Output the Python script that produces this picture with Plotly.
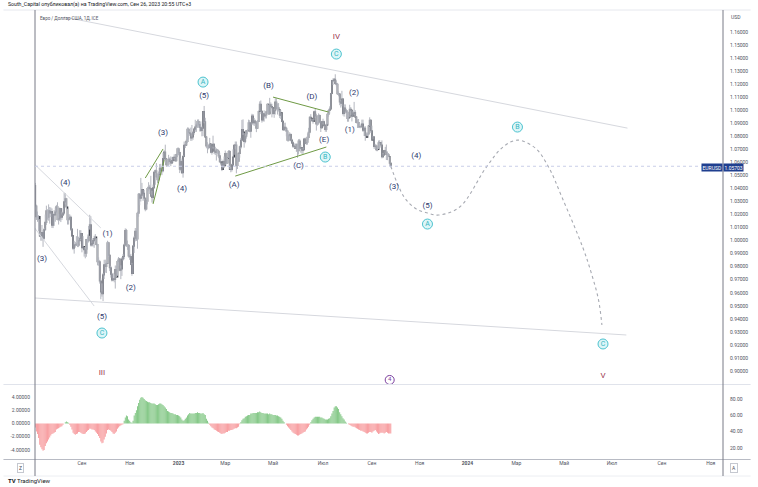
import pandas as pd
import plotly.graph_objects as go

# EUR/USD daily closes, Jul 1 2022 - Sep 26 2023 (one row per month)
close_prices = [
    1.0425, 1.0423, 1.0265, 1.0183, 1.0162, 1.0184, 1.0036, 1.0037, 1.0062, 1.0018, 1.0083, 1.0140, 1.0228, 1.0179, 1.0229, 1.0212, 1.0222, 1.0118, 1.0200, 1.0197, 1.0220,
    1.0260, 1.0163, 1.0167, 1.0245, 1.0180, 1.0196, 1.0212, 1.0297, 1.0320, 1.0258, 1.0160, 1.0168, 1.0178, 1.0088, 1.0036, 0.9942, 0.9966, 0.9968, 0.9973, 0.9965, 1.0000, 1.0016, 1.0055,
    0.9945, 0.9955, 0.9930, 0.9903, 1.0008, 0.9999, 1.0042, 1.0122, 0.9967, 0.9978, 1.0000, 1.0015, 1.0028, 0.9970, 0.9838, 0.9837, 0.9690, 0.9606, 0.9593, 0.9737, 0.9814, 0.9801,
    0.9824, 0.9984, 0.9888, 0.9792, 0.9742, 0.9698, 0.9707, 0.9702, 0.9778, 0.9722, 0.9840, 0.9858, 0.9773, 0.9782, 0.9859, 0.9878, 0.9966, 1.0078, 0.9966, 0.9964, 0.9882,
    0.9877, 0.9818, 0.9748, 0.9958, 1.0019, 1.0072, 1.0012, 1.0210, 1.0355, 1.0326, 1.0348, 1.0392, 1.0362, 1.0325, 1.0243, 1.0303, 1.0399, 1.0408, 1.0399, 1.0343, 1.0331, 1.0406,
    1.0524, 1.0536, 1.0490, 1.0468, 1.0508, 1.0555, 1.0536, 1.0537, 1.0630, 1.0680, 1.0625, 1.0583, 1.0605, 1.0623, 1.0608, 1.0595, 1.0614, 1.0637, 1.0640, 1.0613, 1.0660, 1.0705,
    1.0675, 1.0548, 1.0606, 1.0521, 1.0645, 1.0732, 1.0734, 1.0761, 1.0853, 1.0829, 1.0820, 1.0788, 1.0795, 1.0830, 1.0855, 1.0871, 1.0886, 1.0913, 1.0890, 1.0868, 1.0845, 1.0862,
    1.0990, 1.0912, 1.0795, 1.0726, 1.0727, 1.0714, 1.0740, 1.0678, 1.0723, 1.0739, 1.0686, 1.0676, 1.0695, 1.0686, 1.0650, 1.0606, 1.0595, 1.0546, 1.0606, 1.0575,
    1.0668, 1.0596, 1.0633, 1.0683, 1.0547, 1.0545, 1.0581, 1.0641, 1.0732, 1.0733, 1.0577, 1.0609, 1.0669, 1.0719, 1.0770, 1.0852, 1.0832, 1.0760, 1.0800, 1.0843, 1.0844, 1.0904, 1.0839,
    1.0902, 1.0955, 1.0905, 1.0918, 1.0903, 1.0862, 1.0914, 1.0990, 1.1046, 1.0991, 1.0926, 1.0972, 1.0957, 1.0963, 1.0989, 1.1046, 1.0973, 1.1041, 1.1029, 1.1020,
    1.0975, 1.0996, 1.1063, 1.1014, 1.1018, 1.1006, 1.0962, 1.0981, 1.0915, 1.0850, 1.0870, 1.0862, 1.0841, 1.0771, 1.0805, 1.0814, 1.0771, 1.0750, 1.0725, 1.0722, 1.0706, 1.0736, 1.0689,
    1.0763, 1.0708, 1.0713, 1.0694, 1.0698, 1.0780, 1.0750, 1.0755, 1.0792, 1.0831, 1.0945, 1.0939, 1.0922, 1.0916, 1.0988, 1.0956, 1.0895, 1.0905, 1.0960, 1.0912, 1.0867, 1.0910,
    1.0911, 1.0881, 1.0852, 1.0888, 1.0969, 1.0998, 1.1010, 1.1129, 1.1228, 1.1227, 1.1238, 1.1205, 1.1199, 1.1127, 1.1124, 1.1064, 1.1054, 1.1085, 1.0975, 1.1016, 1.0995,
    1.0985, 1.0937, 1.0947, 1.1008, 1.1000, 1.0955, 1.0973, 1.0982, 1.0948, 1.0907, 1.0905, 1.0874, 1.0873, 1.0873, 1.0895, 1.0846, 1.0862, 1.0807, 1.0794, 1.0818, 1.0878, 1.0922, 1.0843,
    1.0772, 1.0795, 1.0722, 1.0726, 1.0697, 1.0699, 1.0751, 1.0752, 1.0733, 1.0643, 1.0658, 1.0690, 1.0679, 1.0660, 1.0658, 1.0645, 1.0593, 1.0570,
]
high_prices = [
    1.0486, 1.0463, 1.0443, 1.0276, 1.0223, 1.0196, 1.0165, 1.0062, 1.0120, 1.0080, 1.0097, 1.0200, 1.0268, 1.0240, 1.0278, 1.0258, 1.0254, 1.0247, 1.0210, 1.0234, 1.0254,
    1.0274, 1.0294, 1.0204, 1.0254, 1.0250, 1.0222, 1.0248, 1.0368, 1.0365, 1.0328, 1.0245, 1.0203, 1.0202, 1.0192, 1.0096, 1.0034, 0.9998, 0.9990, 1.0034, 1.0090, 1.0030, 1.0080, 1.0080,
    1.0057, 1.0034, 0.9950, 0.9952, 1.0013, 1.0030, 1.0112, 1.0198, 1.0187, 1.0018, 1.0017, 1.0037, 1.0050, 1.0019, 0.9976, 0.9872, 0.9852, 0.9710, 0.9672, 0.9752, 0.9853, 0.9854,
    0.9839, 0.9999, 0.9991, 0.9894, 0.9806, 0.9749, 0.9753, 0.9743, 0.9809, 0.9807, 0.9852, 0.9874, 0.9865, 0.9810, 0.9873, 0.9896, 0.9977, 1.0094, 1.0090, 1.0000, 0.9968,
    0.9954, 0.9898, 0.9829, 0.9966, 1.0034, 1.0097, 1.0094, 1.0222, 1.0364, 1.0364, 1.0481, 1.0443, 1.0393, 1.0389, 1.0327, 1.0310, 1.0412, 1.0448, 1.0428, 1.0497, 1.0383, 1.0430,
    1.0534, 1.0545, 1.0595, 1.0515, 1.0530, 1.0587, 1.0589, 1.0571, 1.0673, 1.0694, 1.0736, 1.0627, 1.0613, 1.0658, 1.0638, 1.0646, 1.0640, 1.0645, 1.0662, 1.0662, 1.0667, 1.0713,
    1.0714, 1.0683, 1.0635, 1.0622, 1.0656, 1.0760, 1.0750, 1.0777, 1.0868, 1.0867, 1.0841, 1.0867, 1.0887, 1.0837, 1.0860, 1.0927, 1.0904, 1.0929, 1.0930, 1.0904, 1.0915, 1.0876,
    1.0993, 1.1033, 1.0942, 1.0800, 1.0755, 1.0739, 1.0788, 1.0742, 1.0728, 1.0805, 1.0741, 1.0720, 1.0708, 1.0703, 1.0691, 1.0674, 1.0630, 1.0595, 1.0621, 1.0645,
    1.0691, 1.0674, 1.0638, 1.0694, 1.0695, 1.0566, 1.0590, 1.0700, 1.0736, 1.0760, 1.0760, 1.0640, 1.0671, 1.0728, 1.0788, 1.0926, 1.0930, 1.0827, 1.0815, 1.0849, 1.0855, 1.0928, 1.0924,
    1.0910, 1.0973, 1.0971, 1.0941, 1.0928, 1.0914, 1.0925, 1.0998, 1.1068, 1.1075, 1.0996, 1.0980, 1.0999, 1.0985, 1.1000, 1.1049, 1.1045, 1.1095, 1.1060, 1.1050,
    1.1025, 1.1011, 1.1092, 1.1091, 1.1053, 1.1055, 1.1007, 1.1000, 1.0978, 1.0920, 1.0903, 1.0905, 1.0873, 1.0850, 1.0815, 1.0831, 1.0823, 1.0782, 1.0762, 1.0746, 1.0745, 1.0746, 1.0744,
    1.0778, 1.0780, 1.0734, 1.0716, 1.0715, 1.0788, 1.0790, 1.0764, 1.0823, 1.0865, 1.0950, 1.0970, 1.0936, 1.0933, 1.0997, 1.1012, 1.0973, 1.0916, 1.0976, 1.0968, 1.0920, 1.0915,
    1.0935, 1.0920, 1.0885, 1.0902, 1.0975, 1.1008, 1.1030, 1.1133, 1.1233, 1.1245, 1.1245, 1.1276, 1.1230, 1.1210, 1.1145, 1.1131, 1.1077, 1.1149, 1.1092, 1.1045, 1.1045,
    1.1010, 1.1000, 1.0963, 1.1042, 1.1025, 1.1004, 1.0995, 1.1064, 1.1000, 1.0952, 1.0930, 1.0933, 1.0903, 1.0890, 1.0928, 1.0928, 1.0875, 1.0877, 1.0830, 1.0830, 1.0882, 1.0946, 1.0929,
    1.0882, 1.0804, 1.0798, 1.0742, 1.0736, 1.0721, 1.0768, 1.0770, 1.0755, 1.0769, 1.0673, 1.0696, 1.0719, 1.0737, 1.0683, 1.0672, 1.0647, 1.0601,
]
low_prices = [
    1.0366, 1.0407, 1.0236, 1.0162, 1.0144, 1.0072, 1.0033, 0.9999, 0.9999, 0.9952, 1.0007, 1.0080, 1.0120, 1.0160, 1.0153, 1.0130, 1.0180, 1.0097, 1.0096, 1.0113, 1.0145,
    1.0204, 1.0155, 1.0123, 1.0150, 1.0142, 1.0159, 1.0188, 1.0200, 1.0277, 1.0238, 1.0123, 1.0123, 1.0160, 1.0074, 1.0030, 0.9927, 0.9900, 0.9946, 0.9960, 0.9950, 0.9950, 0.9975, 1.0003,
    0.9910, 0.9946, 0.9877, 0.9864, 0.9876, 0.9930, 0.9985, 1.0084, 0.9955, 0.9955, 0.9955, 0.9945, 0.9990, 0.9960, 0.9810, 0.9807, 0.9670, 0.9550, 0.9570, 0.9536, 0.9705, 0.9754,
    0.9751, 0.9822, 0.9874, 0.9766, 0.9716, 0.9686, 0.9690, 0.9680, 0.9632, 0.9718, 0.9730, 0.9806, 0.9765, 0.9704, 0.9729, 0.9846, 0.9857, 0.9956, 0.9951, 0.9929, 0.9870,
    0.9852, 0.9812, 0.9730, 0.9745, 0.9905, 0.9994, 0.9997, 0.9938, 1.0183, 1.0271, 1.0300, 1.0332, 1.0305, 1.0309, 1.0225, 1.0233, 1.0278, 1.0378, 1.0357, 1.0337, 1.0292, 1.0290,
    1.0401, 1.0428, 1.0481, 1.0442, 1.0459, 1.0505, 1.0503, 1.0502, 1.0524, 1.0627, 1.0595, 1.0566, 1.0573, 1.0573, 1.0583, 1.0571, 1.0588, 1.0599, 1.0623, 1.0608, 1.0610, 1.0640,
    1.0654, 1.0518, 1.0532, 1.0512, 1.0483, 1.0640, 1.0710, 1.0731, 1.0750, 1.0776, 1.0803, 1.0765, 1.0766, 1.0774, 1.0812, 1.0834, 1.0834, 1.0865, 1.0866, 1.0837, 1.0835, 1.0800,
    1.0802, 1.0900, 1.0791, 1.0708, 1.0670, 1.0700, 1.0707, 1.0670, 1.0659, 1.0705, 1.0664, 1.0657, 1.0614, 1.0666, 1.0632, 1.0600, 1.0577, 1.0533, 1.0554, 1.0557,
    1.0576, 1.0586, 1.0588, 1.0632, 1.0547, 1.0524, 1.0530, 1.0578, 1.0658, 1.0700, 1.0516, 1.0549, 1.0603, 1.0636, 1.0702, 1.0760, 1.0811, 1.0713, 1.0747, 1.0782, 1.0815, 1.0842, 1.0831,
    1.0789, 1.0890, 1.0886, 1.0880, 1.0878, 1.0832, 1.0857, 1.0910, 1.0990, 1.0970, 1.0905, 1.0913, 1.0913, 1.0937, 1.0937, 1.0975, 1.0965, 1.0966, 1.0990, 1.0945,
    1.0966, 1.0942, 1.0967, 1.1000, 1.0967, 1.0990, 1.0940, 1.0933, 1.0908, 1.0848, 1.0846, 1.0840, 1.0800, 1.0761, 1.0760, 1.0780, 1.0761, 1.0745, 1.0711, 1.0712, 1.0703, 1.0681, 1.0635,
    1.0660, 1.0700, 1.0674, 1.0667, 1.0665, 1.0695, 1.0745, 1.0734, 1.0736, 1.0773, 1.0815, 1.0920, 1.0910, 1.0897, 1.0920, 1.0940, 1.0844, 1.0882, 1.0890, 1.0902, 1.0833, 1.0862,
    1.0890, 1.0868, 1.0835, 1.0834, 1.0889, 1.0950, 1.0975, 1.1005, 1.1123, 1.1193, 1.1217, 1.1196, 1.1182, 1.1117, 1.1107, 1.1039, 1.1020, 1.1030, 1.0960, 1.0951, 1.0975,
    1.0946, 1.0912, 1.0912, 1.0945, 1.0964, 1.0914, 1.0950, 1.0964, 1.0945, 1.0900, 1.0864, 1.0864, 1.0863, 1.0862, 1.0865, 1.0833, 1.0802, 1.0766, 1.0800, 1.0800, 1.0810, 1.0875, 1.0825,
    1.0770, 1.0775, 1.0704, 1.0704, 1.0686, 1.0686, 1.0702, 1.0713, 1.0714, 1.0631, 1.0633, 1.0649, 1.0672, 1.0618, 1.0617, 1.0640, 1.0572, 1.0562,
]
first_open = 1.0484

# oscillator histogram (lower pane), same days
osc_values = [
    0.2, 0.0, -0.6, -1.2, -1.6, -2.2, -3.2, -3.6, -3.9, -4.1, -4.0, -3.4, -3.0, -2.7, -2.4, -2.1, -1.8, -1.6, -1.5, -1.4, -1.3,
    -0.9, -0.8, -0.7, -0.6, -0.5, -0.4, -0.2, 0.0, 0.2, 0.3, 0.2, 0.1, -0.2, -0.5, -0.9, -1.4, -1.6, -1.7, -1.6, -1.5, -1.3, -1.3, -1.4,
    -1.5, -1.6, -1.6, -1.5, -1.3, -1.1, -1.0, -0.8, -0.8, -0.9, -0.9, -1.0, -1.2, -1.4, -1.6, -1.9, -2.2, -2.7, -3.0, -2.9, -2.4, -2.0,
    -1.5, -1.0, -0.9, -1.0, -1.1, -1.3, -1.5, -1.6, -1.4, -1.2, -0.8, -0.6, -0.4, -0.3, -0.2, -0.1, 0.4, 0.9, 1.2, 1.1, 0.6,
    0.4, 0.2, 0.1, 0.4, 1.2, 1.6, 2.0, 2.6, 3.1, 3.6, 3.9, 4.0, 3.9, 3.7, 3.5, 3.4, 3.3, 3.2, 3.2, 3.1, 3.0, 3.0,
    3.0, 2.9, 2.8, 2.8, 2.9, 3.0, 3.0, 2.9, 2.8, 2.6, 2.4, 2.2, 1.9, 1.8, 1.7, 1.6, 1.6, 1.5, 1.4, 1.4, 1.3, 1.3,
    1.2, 1.1, 0.9, 0.6, 0.4, 0.5, 0.7, 0.9, 1.2, 1.4, 1.6, 1.5, 1.5, 1.5, 1.5, 1.6, 1.6, 1.7, 1.6, 1.6, 1.5, 1.5,
    1.6, 1.4, 1.3, 0.7, 0.4, 0.1, -0.2, -0.4, -0.6, -0.7, -0.9, -1.0, -1.1, -1.2, -1.3, -1.4, -1.5, -1.6, -1.5, -1.5,
    -1.4, -1.3, -1.3, -1.1, -1.1, -1.0, -1.0, -0.9, -0.8, -0.7, -0.7, -0.6, -0.5, -0.1, 0.2, 0.5, 0.7, 0.8, 1.0, 1.1, 1.2, 1.3, 1.3,
    1.5, 1.5, 1.6, 1.6, 1.6, 1.6, 1.7, 1.7, 1.8, 1.7, 1.6, 1.6, 1.5, 1.5, 1.5, 1.5, 1.4, 1.5, 1.4, 1.4,
    1.3, 1.3, 1.3, 1.2, 1.2, 1.1, 1.0, 0.9, 0.7, 0.4, 0.2, 0.0, -0.2, -0.4, -0.6, -0.8, -1.0, -1.2, -1.4, -1.5, -1.6, -1.7, -1.8,
    -1.8, -1.7, -1.6, -1.5, -1.4, -1.3, -1.2, -0.9, -0.7, -0.5, -0.2, 0.2, 0.5, 0.7, 0.9, 1.0, 1.0, 1.0, 1.0, 1.0, 0.9, 0.9,
    0.8, 0.7, 0.6, 0.6, 0.6, 0.7, 0.8, 1.1, 1.5, 1.9, 2.4, 2.6, 2.6, 2.4, 2.2, 1.7, 1.4, 1.1, 0.8, 0.6, 0.3,
    0.1, 0.0, -0.1, -0.2, -0.3, -0.4, -0.5, -0.5, -0.6, -0.7, -0.8, -0.9, -1.0, -1.1, -1.1, -1.2, -1.3, -1.4, -1.5, -1.5, -1.4, -1.3, -1.3,
    -1.4, -1.2, -1.1, -1.0, -1.2, -1.4, -1.6, -1.5, -1.4, -1.4, -1.4, -1.5, -1.4, -1.3, -1.4, -1.5, -1.5, -1.5,
]

# elliott wave labels
wave_labels = ["(4)", "(3)", "(1)", "(5)", "(2)", "(3)", "(4)", "(5)", "(A)", "(B)", "(C)", "(D)", "(E)",
               "(2)", "(1)", "(3)", "(4)", "(5)"]
wave_dates = ["2022-08-11", "2022-07-13", "2022-10-04", "2022-09-27", "2022-11-02", "2022-12-13", "2023-01-05",
              "2023-02-02", "2023-03-13", "2023-04-25", "2023-06-01", "2023-06-19", "2023-07-04", "2023-08-10",
              "2023-08-04", "2023-09-29", "2023-10-27", "2023-11-10"]
wave_prices = [1.0442, 0.9859, 1.0051, 0.9414, 0.9637, 1.0825, 1.0396, 1.1109, 1.0426, 1.1186, 1.0572, 1.1101,
               1.0771, 1.1132, 1.0848, 1.0411, 1.0649, 1.0265]

circle_labels = ["C", "A", "B", "C", "A", "B", "C"]
circle_dates = ["2022-09-27", "2023-02-01", "2023-07-05", "2023-07-19", "2023-11-10", "2024-03-04", "2024-06-19"]
circle_prices = [0.9291, 1.1216, 1.0641, 1.1431, 1.0127, 1.0871, 0.9207]

degree_labels = ["III", "IV", "V"]
degree_dates = ["2022-09-27", "2023-07-19", "2024-06-19"]
degree_prices = [0.8985, 1.1561, 0.8962]

# projected path (dotted)
proj_dates = ["2023-09-26", "2023-10-12", "2023-10-27", "2023-11-10", "2023-11-24", "2023-12-21", "2024-01-24",
              "2024-02-14", "2024-03-04", "2024-03-26", "2024-04-11", "2024-04-29", "2024-05-24", "2024-06-05",
              "2024-06-13", "2024-06-18"]
proj_prices = [1.0570, 1.0334, 1.0242, 1.0212, 1.0196, 1.0258, 1.0564, 1.0718, 1.0771, 1.0710, 1.0564, 1.0334,
               0.9943, 0.9736, 0.9544, 0.9353]

# trend lines: start date, start price, end date, end price
gray_lines = [
    ["2022-08-10", 1.1715, "2024-07-19", 1.0863],
    ["2022-07-04", 0.9560, "2024-07-18", 0.9276],
    ["2022-07-05", 1.0580, "2022-09-26", 1.0097],
    ["2022-07-04", 1.0102, "2022-09-16", 0.9498],
]
green_lines = [
    ["2022-11-21", 1.0480, "2022-12-13", 1.0703],
    ["2022-11-30", 1.0281, "2022-12-14", 1.0618],
    ["2023-05-01", 1.1101, "2023-07-10", 1.0986],
    ["2023-03-14", 1.0495, "2023-07-06", 1.0718],
]

last_price = 1.05703
price_ticks = [round(0.90 + i * 0.01, 2) for i in range(27)]
osc_ticks = [-4, -2, 0, 2, 4]
osc_ticktext = ["-4.00000", "-2.00000", "0.00000", "2.00000", "4.00000"]
rsi_ticks = [20, 40, 60, 80]
month_ticks = ["2022-09-01", "2022-11-01", "2023-01-02", "2023-03-01", "2023-05-01", "2023-07-03", "2023-09-01",
               "2023-11-01", "2024-01-01", "2024-03-01", "2024-05-01", "2024-07-01", "2024-09-02", "2024-11-01"]
month_text = ["Сен", "Ноя", "<b>2023</b>", "Мар", "Май", "Июл", "Сен", "Ноя", "<b>2024</b>", "Мар", "Май", "Июл",
              "Сен", "Ноя"]

dates = pd.bdate_range("2022-07-01", "2023-09-26")
open_prices = [first_open] + close_prices[:-1]
body_top = [max(o, c) for o, c in zip(open_prices, close_prices)]
body_bot = [min(o, c) for o, c in zip(open_prices, close_prices)]

W, H = 758, 487
ML, MR, MT, MB = 32, 28, 10, 28
PW, PH = W - ML - MR, H - MT - MB


def px(x):
    return (x - ML) / PW


def py(y):
    return (H - MB - y) / PH


fig = go.Figure()

# wicks
wx, wy = [], []
for d, hi, lo in zip(dates, high_prices, low_prices):
    wx += [d, d, None]
    wy += [lo, hi, None]
fig.add_trace(go.Scatter(x=wx, y=wy, mode="lines", line=dict(color="#b4b7bf", width=1), hoverinfo="skip"))

fig.add_trace(go.Candlestick(
    x=dates, open=open_prices, high=body_top, low=body_bot, close=close_prices,
    increasing=dict(line=dict(color="#3d404a", width=1.1), fillcolor="#3d404a"),
    decreasing=dict(line=dict(color="#3d404a", width=1.1), fillcolor="#3d404a"),
    whiskerwidth=0,
))

for d0, p0, d1, p1 in gray_lines:
    fig.add_trace(go.Scatter(x=[d0, d1], y=[p0, p1], mode="lines", line=dict(color="#d6d8de", width=1)))
for d0, p0, d1, p1 in green_lines:
    fig.add_trace(go.Scatter(x=[d0, d1], y=[p0, p1], mode="lines", line=dict(color="#6f9a45", width=1)))

fig.add_trace(go.Scatter(x=proj_dates, y=proj_prices, mode="lines",
                         line=dict(color="#a7aab2", width=1.1, dash="dot", shape="spline", smoothing=1.0)))

fig.add_trace(go.Scatter(x=wave_dates, y=wave_prices, mode="text", text=wave_labels,
                         textfont=dict(color="#2e3a6e", size=8, family="Roboto")))
fig.add_trace(go.Scatter(x=circle_dates, y=circle_prices, mode="markers+text", text=circle_labels,
                         textposition="middle center",
                         marker=dict(symbol="circle", size=10, color="rgba(120,215,225,0.25)",
                                     line=dict(color="#4cc3cf", width=1)),
                         textfont=dict(color="#35b5c2", size=7, family="Roboto")))
fig.add_trace(go.Scatter(x=degree_dates, y=degree_prices, mode="text", text=degree_labels,
                         textfont=dict(color="#9b3650", size=8, family="Roboto")))
fig.add_trace(go.Scatter(x=["2023-09-25"], y=[0.8931], mode="markers+text", text=["4"],
                         textposition="middle center",
                         marker=dict(symbol="circle", size=9, color="white", line=dict(color="#7b3f9e", width=1)),
                         textfont=dict(color="#7b3f9e", size=6, family="Roboto")))

# oscillator
osc_colors = ["rgba(76,175,80,0.75)" if v >= 0 else "rgba(242,90,96,0.65)" for v in osc_values]
fig.add_trace(go.Bar(x=dates, y=osc_values, marker=dict(color=osc_colors, line=dict(width=0)),
                     xaxis="x2", yaxis="y2"))
fig.add_trace(go.Scatter(x=[dates[0]], y=[None], mode="lines", xaxis="x2", yaxis="y3"))

breaks = [dict(bounds=["sat", "mon"])]
x_range = ["2022-07-04 18:00", "2024-11-18"]
tick_font = dict(size=5, color="#50535e")

fig.update_layout(
    width=W, height=H,
    margin=dict(l=ML, r=MR, t=MT, b=MB),
    paper_bgcolor="white", plot_bgcolor="white",
    showlegend=False, bargap=0.2,
    font=dict(family="Roboto, Inter, sans-serif", size=5, color="#50535e"),
    xaxis=dict(domain=[0, 1], anchor="y", range=x_range, rangebreaks=breaks, showticklabels=False,
               showgrid=False, zeroline=False, rangeslider=dict(visible=False)),
    xaxis2=dict(domain=[0, 1], anchor="y2", matches="x", range=x_range, rangebreaks=breaks,
                tickvals=month_ticks, ticktext=month_text, tickfont=tick_font, ticks="",
                showgrid=False, zeroline=False),
    yaxis=dict(domain=[py(384), 1], range=[0.8900, 1.1769], side="right", tickvals=price_ticks,
               tickformat=".5f", tickfont=tick_font, ticks="", ticklabelstandoff=6,
               showgrid=False, zeroline=False),
    yaxis2=dict(domain=[0, py(385)], range=[-5.36, 5.81], side="left", tickvals=osc_ticks,
                ticktext=osc_ticktext, tickfont=tick_font, ticks="", ticklabelstandoff=4,
                showgrid=False, zeroline=False),
    yaxis3=dict(overlaying="y2", anchor="x2", side="right", range=[6.5, 97.1], tickvals=rsi_ticks,
                tickformat=".2f", tickfont=tick_font, ticks="", ticklabelstandoff=6,
                showgrid=False, zeroline=False),
)

# frame lines
line_gray = "#787b86"
fig.add_shape(type="line", xref="paper", yref="paper", x0=px(0), x1=px(W), y0=py(10), y1=py(10),
              line=dict(color="#e6e8ee", width=1))
fig.add_shape(type="line", xref="paper", yref="paper", x0=px(0), x1=px(W), y0=py(384.5), y1=py(384.5),
              line=dict(color="#e0e3eb", width=1))
fig.add_shape(type="line", xref="paper", yref="paper", x0=px(0), x1=px(W), y0=py(459.5), y1=py(459.5),
              line=dict(color="#b8bbc4", width=1))
fig.add_shape(type="line", xref="paper", yref="paper", x0=px(0), x1=px(W), y0=py(476), y1=py(476),
              line=dict(color="#eceef2", width=1))
fig.add_shape(type="line", xref="paper", yref="paper", x0=0, x1=0, y0=py(476), y1=py(10),
              line=dict(color=line_gray, width=1))
fig.add_shape(type="line", xref="paper", yref="paper", x0=1, x1=1, y0=py(476), y1=py(10),
              line=dict(color=line_gray, width=1))
# last price line
fig.add_shape(type="line", xref="paper", yref="y", x0=0, x1=1, y0=last_price, y1=last_price,
              line=dict(color="#c9cee8", width=1, dash="dot"))

fig.add_annotation(x=1, xref="paper", y=last_price, yref="y", xanchor="left", yanchor="top",
                   yshift=3, text="1.05703",
                   showarrow=False, bgcolor="#1f3f8f", font=dict(color="white", size=5), borderpad=0.5)
fig.add_annotation(x=1, xref="paper", y=last_price, yref="y", xanchor="right", yanchor="top",
                   yshift=3, text="EURUSD",
                   showarrow=False, bgcolor="#1f3f8f", font=dict(color="white", size=5), borderpad=0.5)

fig.add_annotation(x=px(3), y=py(5), xref="paper", yref="paper", xanchor="left", yanchor="middle",
                   text="South_Capital опубликовал(а) на TradingView.com, Сен 26, 2023 20:55 UTC+3",
                   showarrow=False, font=dict(size=5.2, color="#131722"))
fig.add_annotation(x=px(35), y=py(19), xref="paper", yref="paper", xanchor="left", yanchor="middle",
                   text="Евро / Доллар США, 1Д, ICE", showarrow=False, font=dict(size=4.5, color="#50535e"))
fig.add_annotation(x=px(736), y=py(17), xref="paper", yref="paper", xanchor="left", yanchor="middle",
                   text="USD", showarrow=False, font=dict(size=5, color="#50535e"))
fig.add_annotation(x=px(17), y=py(468), xref="paper", yref="paper", xanchor="center", yanchor="middle",
                   text="Z", showarrow=False, font=dict(size=5, color="#50535e"),
                   bordercolor="#c5c8d0", borderwidth=1, borderpad=1)
fig.add_annotation(x=px(741), y=py(468), xref="paper", yref="paper", xanchor="center", yanchor="middle",
                   text="A", showarrow=False, font=dict(size=5, color="#50535e"),
                   bordercolor="#c5c8d0", borderwidth=1, borderpad=1)
fig.add_annotation(x=px(3), y=py(480), xref="paper", yref="paper", xanchor="left", yanchor="middle",
                   text="<b>TV</b> TradingView", showarrow=False, font=dict(size=6, color="#131722"))

fig.write_html("out.html", config={"displayModeBar": False},
               post_script="document.body.style.margin='0';")
